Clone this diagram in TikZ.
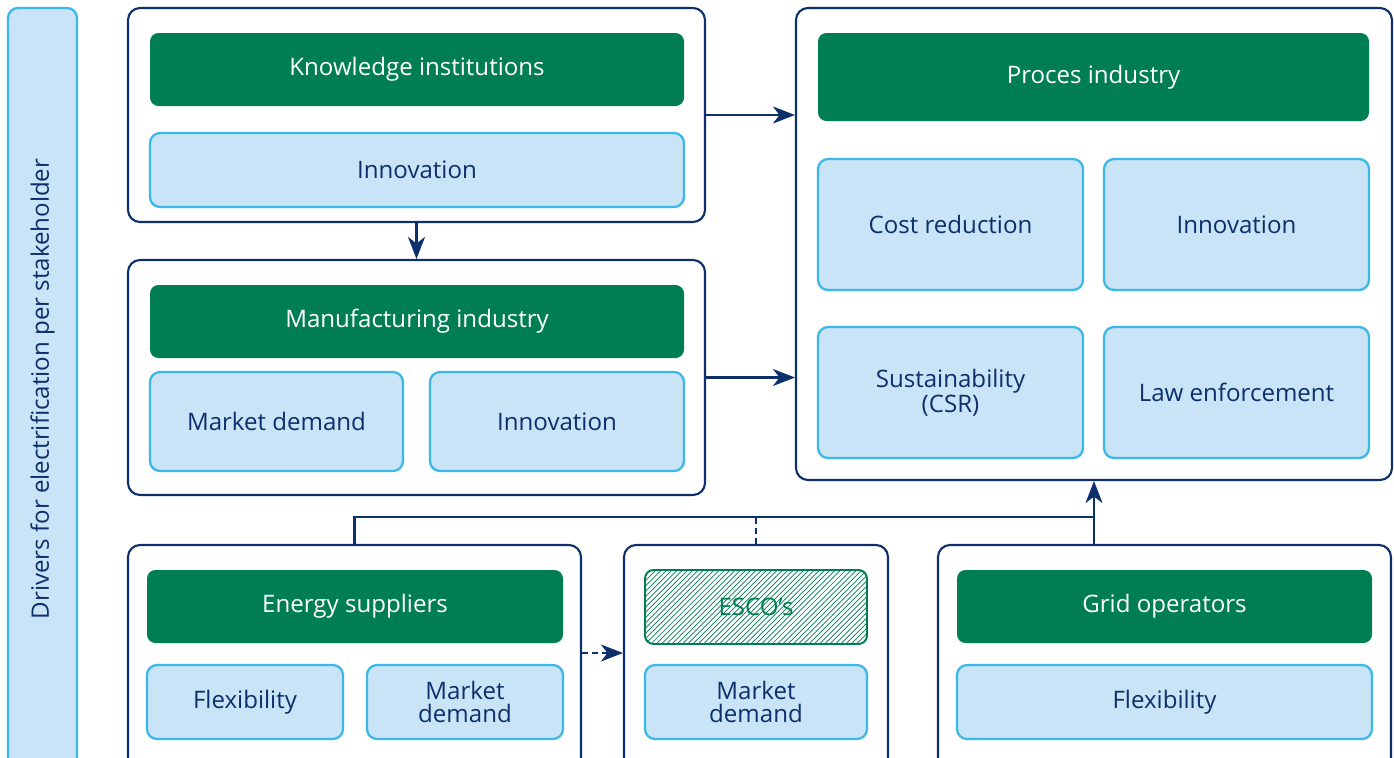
\documentclass[tikz,border=0pt]{standalone}
\usepackage{fontspec}
\setmainfont{Open Sans}
\usetikzlibrary{arrows.meta,patterns}
\definecolor{navy}{RGB}{13,47,107}
\definecolor{hgreen}{RGB}{0,126,83}
\definecolor{lblue}{RGB}{200,228,246}
\definecolor{cyanline}{RGB}{59,183,234}
\tikzset{
	group/.style={draw=navy, line width=1.2pt, fill=white, rounded corners=0.24cm, inner sep=0pt},
	head/.style={fill=hgreen, text=white, rounded corners=0.17cm, inner sep=0pt, align=center},
	driver/.style={draw=cyanline, line width=1.3pt, fill=lblue, text=navy, rounded corners=0.2cm, inner sep=0pt, align=center},
	flow/.style={navy, line width=1.2pt},
	tip/.style={-{Stealth[length=4.4mm,width=3.4mm,inset=1.3mm]}}
}

\begin{document}
\begin{tikzpicture}[font=\fontsize{13.7}{13}\selectfont]
	\useasboundingbox (0,0) rectangle (27.88,-15.14);
	\clip (0,0) rectangle (27.88,-15.14);

	% side label
	\node[driver, rotate=90, minimum width=15.24cm, minimum height=1.38cm] (side) at (0.85,-7.78) {Drivers for electrification per stakeholder};

	% knowledge institutions
	\node[group, minimum width=11.54cm, minimum height=4.28cm] (know) at (8.33,-2.30) {};
	\node[head, minimum width=10.68cm, minimum height=1.46cm] (knowhead) at (8.34,-1.39) {Knowledge institutions};
	\node[driver, minimum width=10.68cm, minimum height=1.48cm] (knowinno) at (8.34,-3.40) {Innovation};

	% manufacturing industry
	\node[group, minimum width=11.54cm, minimum height=4.70cm] (manu) at (8.33,-7.55) {};
	\node[head, minimum width=10.68cm, minimum height=1.46cm] (manuhead) at (8.34,-6.43) {Manufacturing industry};
	\node[driver, minimum width=5.06cm, minimum height=1.98cm] (manumarket) at (5.53,-8.43) {Market demand};
	\node[driver, minimum width=5.08cm, minimum height=1.98cm] (manuinno) at (11.14,-8.43) {Innovation};

	% proces industry
	\node[group, minimum width=11.92cm, minimum height=9.44cm] (proc) at (21.88,-4.88) {};
	\node[head, minimum width=11.02cm, minimum height=1.76cm] (prochead) at (21.87,-1.54) {Proces industry};
	\node[driver, minimum width=5.30cm, minimum height=2.62cm] (proccost) at (19.01,-4.49) {Cost reduction};
	\node[driver, minimum width=5.30cm, minimum height=2.62cm] (procinno) at (24.73,-4.49) {Innovation};
	\node[driver, minimum width=5.30cm, minimum height=2.62cm] (procsust) at (19.01,-7.85) {Sustainability\\(CSR)};
	\node[driver, minimum width=5.30cm, minimum height=2.62cm] (proclaw) at (24.73,-7.85) {Law enforcement};

	% energy suppliers
	\node[group, minimum width=9.06cm, minimum height=4.5cm] (ener) at (7.09,-13.15) {};
	\node[head, minimum width=8.32cm, minimum height=1.46cm] (enerhead) at (7.10,-12.13) {Energy suppliers};
	\node[driver, minimum width=3.92cm, minimum height=1.48cm] (enerflex) at (4.90,-14.04) {Flexibility};
	\node[driver, minimum width=3.92cm, minimum height=1.48cm] (enermarket) at (9.30,-14.04) {Market\\demand};

	% ESCO's
	\node[group, minimum width=5.28cm, minimum height=4.5cm] (esco) at (15.12,-13.15) {};
	\node[draw=hgreen, line width=1.1pt, pattern=north east lines, pattern color=hgreen, text=hgreen, rounded corners=0.17cm, inner sep=0pt, minimum width=4.44cm, minimum height=1.48cm] (escohead) at (15.12,-12.14) {ESCO’s};
	\node[driver, minimum width=4.44cm, minimum height=1.48cm] (escomarket) at (15.12,-14.04) {Market\\demand};

	% grid operators
	\node[group, minimum width=9.06cm, minimum height=4.5cm] (grid) at (23.29,-13.15) {};
	\node[head, minimum width=8.30cm, minimum height=1.46cm] (gridhead) at (23.29,-12.13) {Grid operators};
	\node[driver, minimum width=8.30cm, minimum height=1.48cm] (gridflex) at (23.29,-14.04) {Flexibility};

	% connectors
	\coordinate (bus) at (0,-10.34);
	\draw[flow, tip] (know.east) -- (proc.west |- know.east);
	\draw[flow, tip] (know.south) -- (manu.north);
	\draw[flow, tip] (manu.east) -- (proc.west |- manu.east);
	\draw[flow] (ener.north) -- (ener.north |- bus) -- (proc.south |- bus);
	\draw[flow, dash pattern=on 1.1mm off 0.9mm] (esco.north) -- (esco.north |- bus);
	\draw[flow, tip] (proc.south |- grid.north) -- (proc.south);
	\draw[flow, tip, dash pattern=on 1.1mm off 0.9mm] ([yshift=0.09cm]ener.east) -- ([yshift=0.09cm]esco.west);
\end{tikzpicture}
\end{document}
